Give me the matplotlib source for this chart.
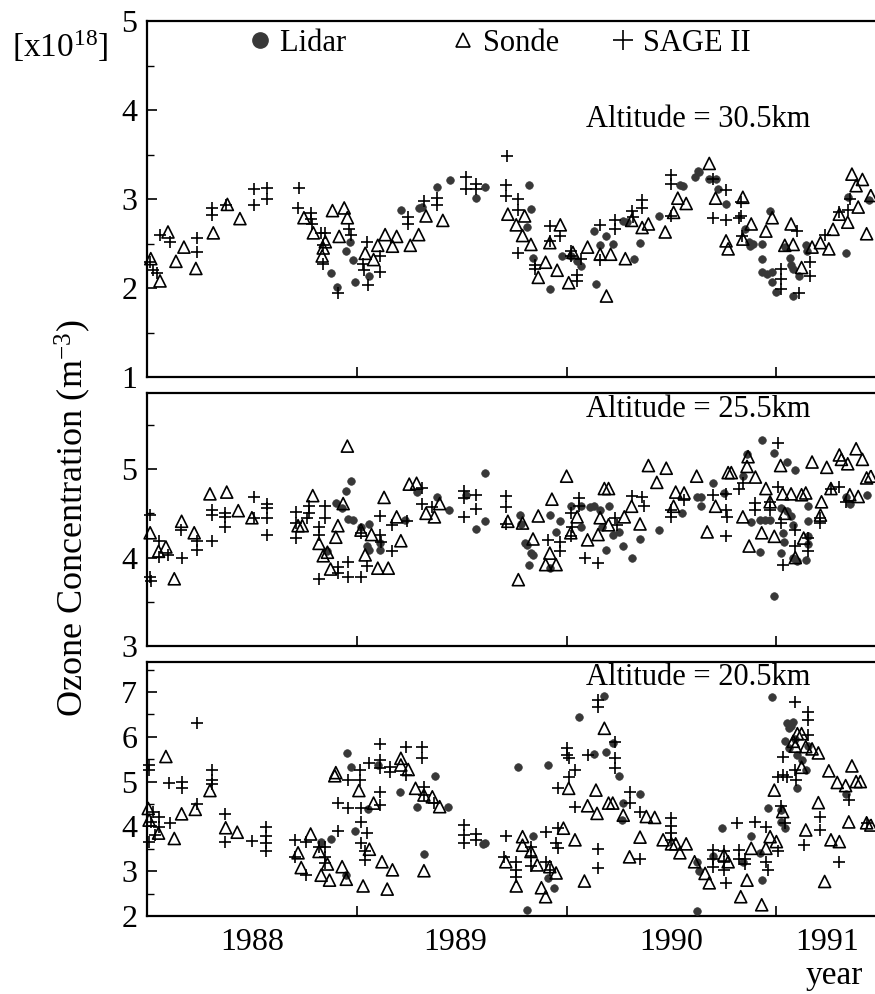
import matplotlib
matplotlib.use('Agg')
import matplotlib.pyplot as plt
from matplotlib.ticker import MultipleLocator
from matplotlib.lines import Line2D

plt.rcParams['font.family'] = 'Liberation Serif'
plt.rcParams['mathtext.fontset'] = 'custom'
plt.rcParams['mathtext.rm'] = 'Liberation Serif'
plt.rcParams['mathtext.default'] = 'regular'

# 30.5 km
lidar_t_30 = [1988.876, 1988.906, 1988.95, 1988.966, 1988.98, 1988.99, 1989.06, 1989.21, 1989.295, 1989.31,
              1989.38, 1989.443, 1989.57, 1989.613, 1989.82, 1989.83, 1989.81, 1989.84, 1989.92, 1989.98,
              1990.02, 1990.05, 1990.07, 1990.14, 1990.13, 1990.16, 1990.19, 1990.22, 1990.27, 1990.29,
              1990.32, 1990.35, 1990.44, 1990.54, 1990.555, 1990.61, 1990.63, 1990.625, 1990.68, 1990.71,
              1990.72, 1990.76, 1990.85, 1990.87, 1990.875, 1990.89, 1990.93, 1990.97, 1990.93, 1990.93,
              1990.955, 1990.98, 1990.98, 1991.0, 1991.04, 1991.065, 1991.07, 1991.08, 1991.08, 1991.11,
              1991.14, 1991.145, 1991.33, 1991.34, 1991.44]
lidar_30 = [2.17, 2.01, 2.42, 2.52, 2.32, 2.07, 2.14, 2.88, 2.90, 2.91,
            3.14, 3.21, 3.01, 3.13, 3.16, 2.89, 2.69, 2.34, 1.99, 2.36,
            2.36, 2.30, 2.25, 2.05, 2.64, 2.48, 2.58, 2.49, 2.75, 2.74,
            2.33, 2.51, 2.81, 3.16, 3.15, 3.25, 3.30, 3.32, 3.22, 3.22,
            3.11, 2.94, 2.66, 2.52, 2.47, 2.50, 2.49, 2.87, 2.33, 2.18,
            2.16, 2.18, 2.07, 1.96, 2.46, 2.34, 2.26, 2.21, 1.91, 2.14,
            2.48, 2.42, 2.39, 3.02, 2.99]
sonde_t_30 = [1988.018, 1988.062, 1988.10, 1988.138, 1988.176, 1988.233, 1988.316, 1988.383, 1988.443, 1988.748,
              1988.793, 1988.84, 1988.835, 1988.85, 1988.884, 1988.916, 1988.94, 1988.955, 1989.04, 1989.08,
              1989.10, 1989.135, 1989.17, 1989.19, 1989.255, 1989.295, 1989.33, 1989.41, 1989.72, 1989.76,
              1989.80, 1989.79, 1989.83, 1989.865, 1989.90, 1989.92, 1989.97, 1989.955, 1990.01, 1990.03,
              1990.10, 1990.16, 1990.21, 1990.19, 1990.28, 1990.31, 1990.36, 1990.39, 1990.47, 1990.51,
              1990.53, 1990.57, 1990.68, 1990.71, 1990.76, 1990.77, 1990.84, 1990.84, 1990.88, 1990.95,
              1990.98, 1991.07, 1991.04, 1991.08, 1991.12, 1991.17, 1991.21, 1991.25, 1991.27, 1991.30,
              1991.34, 1991.36, 1991.38, 1991.41, 1991.39, 1991.43, 1991.45]
sonde_30 = [2.33, 2.08, 2.63, 2.30, 2.46, 2.22, 2.62, 2.94, 2.78, 2.79,
            2.62, 2.45, 2.36, 2.52, 2.87, 2.58, 2.90, 2.79, 2.39, 2.32,
            2.48, 2.60, 2.47, 2.58, 2.48, 2.60, 2.81, 2.76, 2.83, 2.71,
            2.81, 2.59, 2.49, 2.12, 2.29, 2.51, 2.71, 2.20, 2.06, 2.40,
            2.46, 2.38, 2.38, 1.91, 2.33, 2.76, 2.68, 2.72, 2.63, 2.85,
            3.01, 2.95, 3.40, 3.01, 2.53, 2.44, 3.02, 2.55, 2.72, 2.64,
            2.79, 2.72, 2.48, 2.49, 2.23, 2.46, 2.51, 2.44, 2.66, 2.83,
            2.74, 3.28, 3.15, 3.22, 2.91, 2.61, 3.04]
sage_t_30 = [1988.014, 1988.03, 1988.05, 1988.06, 1988.11, 1988.236, 1988.24, 1988.31, 1988.31, 1988.376,
             1988.51, 1988.51, 1988.57, 1988.57, 1988.725, 1988.72, 1988.78, 1988.78, 1988.785, 1988.83,
             1988.85, 1988.84, 1988.84, 1988.91, 1988.965, 1988.97, 1989.03, 1989.035, 1989.05, 1989.055,
             1989.11, 1989.11, 1989.245, 1989.245, 1989.32, 1989.38, 1989.38, 1989.52, 1989.52, 1989.57,
             1989.57, 1989.715, 1989.71, 1989.71, 1989.77, 1989.77, 1989.77, 1989.85, 1989.85, 1989.92,
             1989.92, 1989.97, 1990.02, 1990.02, 1990.05, 1990.05, 1990.07, 1990.16, 1990.16, 1990.23,
             1990.23, 1990.31, 1990.315, 1990.36, 1990.36, 1990.50, 1990.50, 1990.50, 1990.70, 1990.76,
             1990.82, 1990.70, 1990.76, 1990.83, 1990.83, 1990.835, 1991.02, 1991.02, 1991.02, 1991.10,
             1991.11, 1991.16, 1991.16, 1991.23, 1991.30, 1991.34, 1991.35]
sage_30 = [2.29, 2.20, 2.17, 2.60, 2.52, 2.56, 2.40, 2.90, 2.82, 2.93,
           3.11, 2.93, 3.12, 3.00, 3.12, 2.90, 2.84, 2.78, 2.72, 2.62,
           2.62, 2.48, 2.27, 1.94, 2.66, 2.60, 2.27, 2.20, 2.52, 2.03,
           2.18, 2.36, 2.80, 2.72, 2.98, 3.01, 2.93, 3.25, 3.11, 3.17,
           3.11, 3.48, 3.16, 3.03, 3.00, 2.88, 2.39, 2.26, 2.21, 2.70,
           2.53, 2.58, 2.42, 2.36, 2.15, 2.08, 2.33, 2.71, 2.31, 2.76,
           2.66, 2.87, 2.80, 2.99, 2.90, 3.27, 3.17, 2.81, 2.79, 2.76,
           2.79, 3.23, 3.10, 2.97, 2.81, 2.58, 2.21, 2.10, 1.99, 2.64,
           1.94, 2.29, 2.14, 2.60, 2.85, 2.88, 3.00]

# 25.5 km
lidar_t_25 = [1988.86, 1988.90, 1988.93, 1988.95, 1988.97, 1988.96, 1988.98, 1989.02, 1989.06, 1989.05,
              1989.06, 1989.11, 1989.11, 1989.23, 1989.285, 1989.38, 1989.44, 1989.52, 1989.57, 1989.61,
              1989.61, 1989.78, 1989.785, 1989.80, 1989.81, 1989.83, 1989.84, 1989.82, 1989.92, 1989.92,
              1989.95, 1989.97, 1990.02, 1990.07, 1990.07, 1990.11, 1990.13, 1990.16, 1990.20, 1990.17,
              1990.22, 1990.19, 1990.27, 1990.25, 1990.31, 1990.35, 1990.44, 1990.55, 1990.62, 1990.64,
              1990.64, 1990.70, 1990.75, 1990.86, 1990.84, 1990.88, 1990.93, 1990.99, 1991.05, 1991.09,
              1990.92, 1990.92, 1990.945, 1990.97, 1990.99, 1991.02, 1991.03, 1991.035, 1991.02, 1991.05,
              1991.07, 1991.08, 1991.08, 1991.10, 1991.14, 1991.15, 1991.15, 1991.15, 1991.15, 1991.33,
              1991.35, 1991.43]
lidar_25 = [4.07, 4.62, 4.56, 4.75, 4.86, 4.44, 4.43, 4.35, 4.38, 4.13,
            4.09, 4.09, 4.17, 4.43, 4.74, 4.69, 4.54, 4.71, 4.32, 4.96,
            4.41, 4.48, 4.38, 4.17, 4.14, 4.05, 4.03, 3.92, 3.88, 4.48,
            4.29, 4.41, 4.58, 4.35, 4.58, 4.57, 4.58, 4.54, 4.58, 4.35,
            4.25, 4.09, 4.13, 4.29, 4.00, 4.21, 4.31, 4.50, 4.69, 4.68,
            4.58, 4.84, 4.73, 5.17, 4.92, 4.40, 5.33, 5.18, 5.08, 4.99,
            4.06, 4.42, 4.43, 4.42, 3.57, 4.05, 4.28, 4.18, 4.56, 4.53,
            4.47, 4.37, 4.00, 3.96, 3.97, 4.58, 4.41, 4.24, 4.15, 4.69,
            4.61, 4.71]
sonde_t_25 = [1988.015, 1988.055, 1988.09, 1988.13, 1988.165, 1988.225, 1988.30, 1988.38, 1988.435, 1988.50,
              1988.72, 1988.74, 1988.79, 1988.82, 1988.84, 1988.86, 1988.875, 1988.90, 1988.91, 1988.935,
              1988.955, 1989.02, 1989.04, 1989.07, 1989.10, 1989.15, 1989.13, 1989.19, 1989.21, 1989.25,
              1989.285, 1989.33, 1989.37, 1989.395, 1989.77, 1989.72, 1989.79, 1989.865, 1989.84, 1989.92,
              1989.90, 1989.95, 1989.93, 1990.00, 1990.02, 1990.05, 1990.10, 1990.15, 1990.18, 1990.20,
              1990.16, 1990.20, 1990.275, 1990.31, 1990.35, 1990.39, 1990.43, 1990.475, 1990.51, 1990.52,
              1990.56, 1990.62, 1990.67, 1990.71, 1990.77, 1990.785, 1990.84, 1990.86, 1990.865, 1990.90,
              1990.87, 1990.93, 1990.95, 1990.97, 1990.99, 1991.02, 1991.03, 1991.07, 1991.04, 1991.09,
              1991.12, 1991.14, 1991.13, 1991.17, 1991.21, 1991.215, 1991.24, 1991.26, 1991.30, 1991.31,
              1991.34, 1991.38, 1991.41, 1991.35, 1991.39, 1991.43, 1991.45]
sonde_25 = [4.28, 4.07, 4.12, 3.76, 4.41, 4.28, 4.72, 4.74, 4.53, 4.45,
            4.36, 4.36, 4.70, 4.16, 4.02, 4.06, 3.87, 4.23, 4.36, 4.61,
            5.26, 4.31, 4.03, 4.26, 3.88, 3.88, 4.68, 4.46, 4.19, 4.83,
            4.84, 4.50, 4.46, 4.61, 3.75, 4.41, 4.39, 4.47, 4.21, 4.05,
            3.92, 3.92, 4.66, 4.92, 4.28, 4.46, 4.20, 4.26, 4.78, 4.78,
            4.45, 4.37, 4.46, 4.58, 4.38, 5.04, 4.85, 5.01, 4.58, 4.74,
            4.73, 4.92, 4.29, 4.58, 4.96, 4.96, 4.46, 5.03, 5.14, 4.91,
            4.13, 4.28, 4.78, 4.63, 4.24, 5.04, 4.72, 4.72, 4.50, 4.00,
            4.71, 4.73, 4.22, 5.08, 4.48, 4.63, 5.02, 4.78, 5.16, 5.11,
            5.06, 5.23, 5.11, 4.71, 4.69, 4.90, 4.92]
sage_t_25 = [1988.015, 1988.015, 1988.017, 1988.055, 1988.055, 1988.10, 1988.165, 1988.16, 1988.24, 1988.24,
             1988.31, 1988.31, 1988.31, 1988.37, 1988.37, 1988.37, 1988.51, 1988.51, 1988.57, 1988.57,
             1988.57, 1988.57, 1988.71, 1988.71, 1988.71, 1988.77, 1988.77, 1988.765, 1988.85, 1988.85,
             1988.82, 1988.82, 1988.82, 1988.91, 1988.91, 1988.96, 1988.96, 1989.02, 1989.05, 1989.02,
             1989.11, 1989.11, 1989.115, 1989.17, 1989.17, 1989.24, 1989.31, 1989.31, 1989.36, 1989.51,
             1989.51, 1989.51, 1989.57, 1989.57, 1989.71, 1989.71, 1989.71, 1989.91, 1989.97, 1989.97,
             1990.06, 1990.06, 1990.02, 1990.025, 1990.02, 1990.09, 1990.15, 1990.23, 1990.24, 1990.31,
             1990.36, 1990.37, 1990.50, 1990.50, 1990.56, 1990.70, 1990.76, 1990.76, 1990.765, 1990.76,
             1990.82, 1990.84, 1990.90, 1990.97, 1990.90, 1990.97, 1991.01, 1991.01, 1991.02, 1991.09,
             1991.09, 1991.15, 1991.15, 1991.03, 1991.21, 1991.21, 1991.26, 1991.30, 1991.33]
sage_25 = [4.48, 3.78, 3.73, 4.19, 4.01, 4.03, 4.00, 4.31, 4.19, 4.09,
           4.19, 4.54, 4.48, 4.50, 4.46, 4.35, 4.69, 4.45, 4.61, 4.56,
           4.45, 4.25, 4.52, 4.39, 4.22, 4.58, 4.50, 4.45, 4.58, 4.45,
           4.35, 4.26, 3.76, 3.89, 3.83, 3.95, 3.78, 3.78, 3.90, 4.28,
           4.47, 4.26, 4.18, 4.07, 4.37, 4.41, 4.79, 4.60, 4.57, 4.75,
           4.67, 4.46, 4.71, 4.55, 4.70, 4.57, 4.38, 4.20, 4.18, 4.07,
           4.67, 4.58, 4.50, 4.35, 4.24, 4.00, 3.94, 4.45, 4.37, 4.70,
           4.68, 4.58, 4.54, 4.46, 4.65, 4.71, 4.72, 4.54, 4.46, 4.24,
           4.78, 4.84, 4.62, 4.63, 4.54, 4.54, 5.30, 4.80, 4.39, 4.31,
           4.13, 4.22, 4.07, 3.92, 4.45, 4.39, 4.78, 4.80, 4.63]

# 20.5 km
lidar_t_20 = [1988.83, 1988.875, 1988.95, 1988.955, 1988.97, 1988.99, 1989.055, 1989.10, 1989.205, 1989.285,
              1989.32, 1989.375, 1989.435, 1989.60, 1989.61, 1989.77, 1989.81, 1989.84, 1989.91, 1989.91,
              1989.94, 1990.06, 1990.13, 1990.18, 1990.19, 1990.22, 1990.25, 1990.27, 1990.265, 1990.35,
              1990.62, 1990.62, 1990.63, 1990.74, 1990.70, 1990.84, 1990.88, 1990.92, 1990.93, 1990.96,
              1990.98, 1991.04, 1991.02, 1991.02, 1991.05, 1991.07, 1991.08, 1991.06, 1991.04, 1991.06,
              1991.09, 1991.10, 1991.10, 1991.12, 1991.14, 1991.15, 1991.33]
lidar_20 = [3.66, 3.71, 2.92, 5.63, 5.33, 3.90, 4.38, 5.37, 4.76, 4.44,
            3.38, 5.13, 4.44, 3.61, 3.62, 5.33, 2.13, 3.79, 5.37, 2.85,
            2.62, 6.45, 5.62, 6.90, 5.65, 5.86, 5.13, 4.52, 4.14, 4.72,
            2.10, 3.21, 3.01, 3.96, 3.34, 3.21, 3.79, 3.40, 2.80, 4.40,
            6.88, 3.96, 4.37, 4.10, 6.30, 6.25, 6.33, 6.20, 5.90, 5.75,
            5.95, 5.60, 4.85, 5.48, 5.26, 5.79, 4.72]
sonde_t_20 = [1988.006, 1988.01, 1988.055, 1988.09, 1988.13, 1988.165, 1988.23, 1988.30, 1988.375, 1988.43,
              1988.72, 1988.735, 1988.78, 1988.82, 1988.83, 1988.86, 1988.87, 1988.90, 1988.895, 1988.93,
              1988.95, 1989.01, 1989.03, 1989.06, 1989.08, 1989.12, 1989.145, 1989.17, 1989.21, 1989.21,
              1989.245, 1989.28, 1989.32, 1989.32, 1989.36, 1989.395, 1989.79, 1989.79, 1989.71, 1989.76,
              1989.83, 1989.86, 1989.88, 1989.90, 1989.92, 1989.95, 1989.985, 1990.01, 1990.04, 1990.085,
              1990.14, 1990.10, 1990.145, 1990.18, 1990.20, 1990.22, 1990.27, 1990.35, 1990.30, 1990.38,
              1990.42, 1990.46, 1990.50, 1990.52, 1990.54, 1990.57, 1990.61, 1990.66, 1990.68, 1990.75,
              1990.77, 1990.83, 1990.86, 1990.88, 1990.93, 1990.95, 1990.97, 1990.99, 1991.0, 1991.03,
              1991.08, 1991.10, 1991.12, 1991.09, 1991.14, 1991.17, 1991.20, 1991.12, 1991.20, 1991.14,
              1991.23, 1991.25, 1991.29, 1991.33, 1991.26, 1991.30, 1991.345, 1991.36, 1991.38, 1991.40,
              1991.43, 1991.45]
sonde_20 = [4.40, 4.14, 3.85, 5.56, 3.73, 4.28, 4.38, 4.80, 3.97, 3.87,
            3.41, 3.08, 3.83, 3.44, 2.91, 3.16, 2.80, 5.20, 5.13, 3.10,
            2.82, 4.80, 2.67, 3.49, 4.52, 3.21, 2.60, 3.03, 5.52, 5.37,
            5.27, 4.85, 4.70, 3.01, 4.66, 4.44, 3.77, 3.58, 3.21, 2.67,
            3.44, 3.14, 2.63, 2.43, 3.10, 2.96, 3.96, 4.85, 3.70, 2.78,
            4.81, 4.46, 4.29, 6.19, 4.52, 4.52, 4.25, 3.76, 3.32, 4.22,
            4.20, 3.70, 3.61, 3.61, 3.41, 3.61, 3.21, 2.95, 2.74, 3.36,
            3.21, 2.43, 2.80, 3.51, 2.25, 3.51, 3.77, 4.81, 3.66, 4.33,
            5.90, 6.07, 6.07, 5.79, 5.78, 5.73, 5.64, 5.32, 4.53, 3.92,
            2.77, 5.24, 4.98, 4.91, 3.70, 3.66, 4.10, 5.35, 5.00, 5.00,
            4.08, 4.03]
sage_t_20 = [1988.01, 1988.01, 1988.01, 1988.03, 1988.055, 1988.055, 1988.02, 1988.04, 1988.11, 1988.105,
             1988.165, 1988.165, 1988.24, 1988.24, 1988.31, 1988.31, 1988.31, 1988.37, 1988.37, 1988.50,
             1988.565, 1988.565, 1988.565, 1988.565, 1988.705, 1988.705, 1988.76, 1988.76, 1988.82, 1988.85,
             1988.85, 1988.85, 1988.91, 1988.91, 1988.96, 1988.96, 1989.015, 1989.015, 1989.02, 1989.02,
             1989.02, 1989.05, 1989.04, 1989.04, 1989.06, 1989.11, 1989.11, 1989.11, 1989.11, 1989.11,
             1989.16, 1989.16, 1989.235, 1989.235, 1989.31, 1989.31, 1989.32, 1989.32, 1989.37, 1989.51,
             1989.51, 1989.51, 1989.57, 1989.57, 1989.71, 1989.70, 1989.76, 1989.76, 1989.76, 1989.83,
             1989.83, 1989.83, 1989.90, 1989.96, 1989.90, 1989.92, 1989.95, 1989.96, 1990.15, 1990.15,
             1990.0, 1990.0, 1990.01, 1990.04, 1989.96, 1990.01, 1990.04, 1990.10, 1990.15, 1990.15,
             1990.23, 1990.23, 1990.23, 1990.30, 1990.30, 1990.35, 1990.35, 1990.50, 1990.50, 1990.50,
             1990.50, 1990.70, 1990.70, 1990.70, 1990.75, 1990.75, 1990.75, 1990.76, 1990.81, 1990.90,
             1990.82, 1990.82, 1990.85, 1990.85, 1990.95, 1990.95, 1990.96, 1991.01, 1991.01, 1991.02,
             1991.04, 1991.03, 1991.09, 1991.15, 1991.15, 1991.15, 1991.03, 1991.05, 1991.09, 1991.095,
             1991.13, 1991.21, 1991.21, 1991.30, 1991.345, 1991.43]
sage_20 = [5.37, 5.26, 3.66, 4.33, 4.20, 3.99, 4.10, 3.80, 4.08, 4.97,
           5.00, 4.86, 6.31, 4.51, 5.26, 5.04, 4.94, 4.28, 3.66, 3.68,
           3.99, 3.79, 3.62, 3.45, 3.70, 3.32, 3.66, 2.92, 3.55, 3.55,
           3.32, 3.18, 4.53, 3.90, 4.40, 5.04, 5.26, 5.04, 4.40, 4.10,
           3.64, 3.85, 3.44, 3.25, 5.42, 5.84, 5.48, 5.30, 4.77, 4.48,
           5.33, 5.22, 5.78, 5.15, 5.78, 5.52, 4.89, 4.70, 4.52, 4.03,
           3.81, 3.64, 3.83, 3.70, 3.79, 3.32, 3.21, 3.03, 2.88, 3.55,
           3.34, 3.12, 3.88, 3.96, 3.21, 3.03, 3.64, 3.51, 3.50, 3.08,
           5.75, 5.60, 5.52, 5.26, 4.85, 5.11, 4.44, 5.59, 6.82, 6.67,
           5.89, 5.52, 5.30, 4.77, 4.52, 4.33, 3.27, 4.18, 4.01, 3.85,
           3.70, 3.47, 3.28, 3.10, 3.44, 3.21, 3.03, 2.74, 4.07, 4.10,
           3.47, 3.28, 3.28, 3.17, 3.99, 3.21, 3.03, 3.44, 5.11, 4.46,
           4.08, 5.15, 6.78, 6.56, 6.38, 6.04, 5.56, 5.11, 5.26, 5.04,
           3.58, 4.22, 3.92, 3.21, 4.60, 4.08]

panels = [
    ('Altitude = 30.5km', lidar_t_30, lidar_30, sonde_t_30, sonde_30, sage_t_30, sage_30),
    ('Altitude = 25.5km', lidar_t_25, lidar_25, sonde_t_25, sonde_25, sage_t_25, sage_25),
    ('Altitude = 20.5km', lidar_t_20, lidar_20, sonde_t_20, sonde_20, sage_t_20, sage_20),
]
ylims = [(1, 5), (3, 5.86), (2, 7.67)]
boxes = [[0.168, 0.6207, 0.832, 0.3581],
         [0.168, 0.3501, 0.832, 0.2545],
         [0.168, 0.0785, 0.832, 0.2555]]
text_y = [0.702, 0.905, 0.909]

year_labels = ['1988', '1989', '1990', '1991']
year_label_pos = [1988.5, 1989.47, 1990.5, 1991.24]

fig = plt.figure(figsize=(8.75, 9.94), dpi=100)
axes = []
for i, (title, lt, lv, st, sv, gt, gv) in enumerate(panels):
    ax = fig.add_axes(boxes[i])
    ax.scatter(lt, lv, s=30, color='#383838', edgecolors='#383838', linewidths=0.5, clip_on=False, zorder=3)
    ax.scatter(st, sv, s=75, marker='^', facecolors='none', edgecolors='black', linewidths=1.2,
               clip_on=False, zorder=3)
    ax.scatter(gt, gv, s=80, marker='+', color='black', linewidths=1.2, clip_on=False, zorder=3)
    ax.set_xlim(1988.0, 1991.47)
    ax.set_ylim(*ylims[i])
    ax.yaxis.set_major_locator(MultipleLocator(1))
    ax.yaxis.set_minor_locator(MultipleLocator(0.5))
    ax.set_xticks([1989, 1990, 1991])
    ax.tick_params(axis='both', which='major', direction='in', length=7, width=1.2, labelsize=23, pad=7)
    ax.tick_params(axis='y', which='minor', direction='in', length=5, width=1.0)
    ax.spines['right'].set_visible(False)
    for s in ['left', 'top', 'bottom']:
        ax.spines[s].set_linewidth(1.6)
    ax.text(0.757, text_y[i], title, transform=ax.transAxes, fontsize=22, ha='center', va='baseline')
    if i < 2:
        ax.tick_params(axis='x', labelbottom=False)
    axes.append(ax)

ax3 = axes[2]
ax3.set_xticks([1989, 1990, 1991], labels=['', '', ''])
ax3.set_xticks(year_label_pos, labels=year_labels, minor=True)
ax3.tick_params(axis='x', which='minor', length=0, labelsize=23, pad=9)
ax3.set_xlabel('year', fontsize=24)
ax3.xaxis.set_label_coords(0.944, -0.175)

handles = [Line2D([], [], linestyle='none', marker='o', markersize=11, color='#383838'),
           Line2D([], [], linestyle='none', marker='^', markersize=10, markerfacecolor='none',
                  markeredgecolor='black', markeredgewidth=1.2),
           Line2D([], [], linestyle='none', marker='+', markersize=14, color='black', markeredgewidth=1.2)]
axes[0].legend(handles, ['Lidar       ', 'Sonde', 'SAGE II'], ncol=3, loc='center left',
               bbox_to_anchor=(0.139, 0.938), frameon=False, fontsize=22, borderpad=0, borderaxespad=0,
               handlelength=0.8, handletextpad=0.25, columnspacing=1.68)

fig.text(12 / 875, 1 - 57 / 994, r'[x10$^{18}$]', fontsize=24, ha='left', va='baseline')
fig.text(73 / 875, 1 - 518 / 994, r'Ozone Concentration (m$^{-3}$)', fontsize=26, rotation=90,
         ha='center', va='center')

fig.savefig('out.png', dpi=100)
